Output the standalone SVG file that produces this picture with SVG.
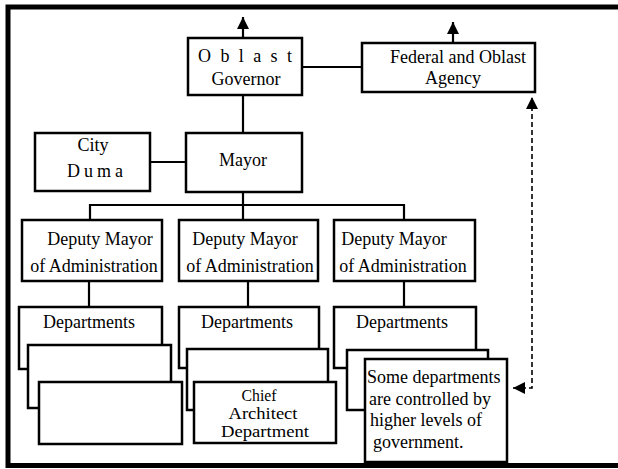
<svg xmlns="http://www.w3.org/2000/svg" width="618" height="469" viewBox="0 0 618 469">
<style>
.box{fill:#fff;stroke:#000;stroke-width:2.5}
.ln{fill:none;stroke:#000;stroke-width:2.2}
.dash{fill:none;stroke:#000;stroke-width:1.6;stroke-dasharray:5 3}
.t{font-family:'Liberation Serif','Times New Roman','DejaVu Serif',serif;font-size:18px;fill:#000}
.c{text-anchor:middle}
.sm{font-size:16px}
</style>
<defs>
<marker id="ah" markerUnits="userSpaceOnUse" markerWidth="12" markerHeight="12" refX="12" refY="6" orient="auto-start-reverse" viewBox="0 0 12 12">
<path d="M0,0 L12,6 L0,12 z" fill="#000" stroke="none"/>
</marker>
</defs>
<rect width="618" height="469" fill="#fff"/>
<path d="M618,7 H8 V465.5 H618" fill="none" stroke="#000" stroke-width="5"/>

<g id="connectors">
<line class="ln" x1="243" y1="38" x2="243" y2="17" marker-end="url(#ah)"/>
<line class="ln" x1="453" y1="43" x2="453" y2="22" marker-end="url(#ah)"/>
<path class="dash" d="M513,388 H532 V97" marker-start="url(#ah)" marker-end="url(#ah)"/>
<line class="ln" x1="302" y1="67" x2="362" y2="67"/>
<line class="ln" x1="243" y1="95" x2="243" y2="133"/>
<line class="ln" x1="150" y1="162" x2="186" y2="162"/>
<line class="ln" x1="243" y1="192" x2="243" y2="220"/>
<path class="ln" d="M90,220 V205 H404 V220"/>
<line class="ln" x1="89" y1="281" x2="89" y2="307"/>
<line class="ln" x1="248" y1="281" x2="248" y2="307"/>
<line class="ln" x1="404" y1="281" x2="404" y2="307"/>
</g>

<g class="t" font-family="Liberation Serif, Times New Roman, serif">
<g id="governor">
<rect class="box" x="188" y="38" width="114" height="57"/>
<text x="198" y="62" letter-spacing="9.4">Oblast</text>
<text class="c" x="246" y="85">Governor</text>
</g>
<g id="federal">
<rect class="box" x="362" y="43" width="173" height="49"/>
<text class="c" x="458" y="63">Federal and Oblast</text>
<text class="c" x="453" y="84">Agency</text>
</g>
<g id="duma">
<rect class="box" x="35" y="133" width="115" height="58"/>
<text class="c" x="93" y="151">City</text>
<text class="c" x="97" y="177" letter-spacing="4">Duma</text>
</g>
<g id="mayor">
<rect class="box" x="186" y="133" width="116" height="59"/>
<text class="c" x="243" y="166">Mayor</text>
</g>
<g id="deputy1">
<rect class="box" x="22" y="220" width="140" height="61"/>
<text class="c" x="100" y="245">Deputy Mayor</text>
<text class="c" x="94" y="272">of Administration</text>
</g>
<g id="deputy2">
<rect class="box" x="179" y="220" width="139" height="61"/>
<text class="c" x="245" y="245">Deputy Mayor</text>
<text class="c" x="250" y="272">of Administration</text>
</g>
<g id="deputy3">
<rect class="box" x="334" y="220" width="141" height="61"/>
<text class="c" x="394" y="245">Deputy Mayor</text>
<text class="c" x="403" y="272">of Administration</text>
</g>

<g id="dept1a"><rect class="box" x="19" y="307" width="143" height="62"/><text class="c" x="89" y="328">Departments</text></g>
<g id="dept1b"><rect class="box" x="28" y="345" width="143" height="63"/></g>
<g id="dept1c"><rect class="box" x="39" y="382" width="143" height="62"/></g>

<g id="dept2a"><rect class="box" x="179" y="307" width="140" height="61"/><text class="c" x="247" y="328">Departments</text></g>
<g id="dept2b"><rect class="box" x="187" y="349" width="141" height="61"/></g>
<g id="dept2c"><rect class="box" x="194" y="382" width="142" height="61"/>
<text class="c sm" x="259" y="401" textLength="35" lengthAdjust="spacingAndGlyphs">Chief</text>
<text class="c sm" x="263" y="419" textLength="69" lengthAdjust="spacingAndGlyphs">Architect</text>
<text class="c sm" x="265" y="437" textLength="88" lengthAdjust="spacingAndGlyphs">Department</text>
</g>

<g id="dept3a"><rect class="box" x="334" y="307" width="142" height="61"/><text class="c" x="402" y="328">Departments</text></g>
<g id="dept3b"><rect class="box" x="347" y="350" width="141" height="60"/></g>
<g id="dept3c"><rect class="box" x="365" y="359" width="142" height="103"/>
<text x="367" y="383">Some departments</text>
<text x="369" y="404.5">are controlled by</text>
<text x="370" y="426">higher levels of</text>
<text x="373" y="447.5">government.</text>
</g>
</g>
</svg>
